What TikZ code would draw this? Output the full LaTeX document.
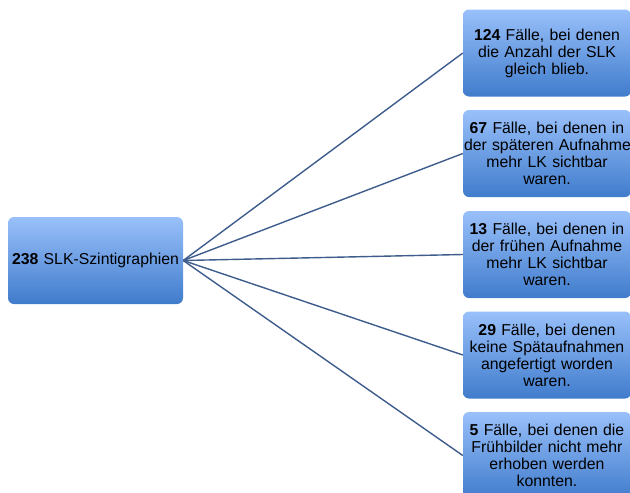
\documentclass[tikz,border=0pt]{standalone}
\usepackage{fontspec}
\setmainfont{Liberation Sans}
\usetikzlibrary{positioning}

\definecolor{boxtop}{RGB}{153,192,250}
\definecolor{boxbottom}{RGB}{64,124,204}
\definecolor{linkblue}{RGB}{62,92,140}

\tikzset{
  casebox/.style={rounded corners=6pt, top color=boxtop, bottom color=boxbottom,
    minimum width=168pt, minimum height=87pt, text width=166pt, align=center,
    inner sep=1pt, font=\fontsize{15.8}{17}\selectfont},
  rootbox/.style={casebox, minimum width=175pt, text width=173pt},
  link/.style={draw=linkblue, line width=1.4pt}
}

\begin{document}
\begin{tikzpicture}[x=1pt,y=-1pt]
\clip (0,0) rectangle (630,493);

\def\xa{95.5}
\def\xb{547}

\def\ya{53}
\def\yb{153.5}
\def\yc{254.5}
\def\yd{355}
\def\ye{455.5}

\node[rootbox] (root) at (\xa, 260.5) {\textbf{238} SLK-Szintigraphien};

\node[casebox] (same) at (\xb, \ya) {\textbf{124} Fälle, bei denen\\die Anzahl der SLK\\gleich blieb.};
\node[casebox] (late) at (\xb, \yb) {\textbf{67} Fälle, bei denen in\\\mbox{der späteren Aufnahme}\\mehr LK sichtbar\\waren.};
\node[casebox] (early) at (\xb, \yc) {\textbf{13} Fälle, bei denen in\\der frühen Aufnahme\\mehr LK sichtbar\\waren.};
\node[casebox] (nolate) at (\xb, \yd) {\textbf{29} Fälle, bei denen\\keine Spätaufnahmen\\angefertigt worden\\waren.};
\node[casebox] (noearly) at (\xb, \ye) {\textbf{5} Fälle, bei denen die\\Frühbilder nicht mehr\\erhoben werden\\konnten.};

\draw[link] (root.east) -- (same.west);
\draw[link] (root.east) -- (late.west);
\draw[link] (root.east) -- (early.west);
\draw[link] (root.east) -- (nolate.west);
\draw[link] (root.east) -- (noearly.west);
\end{tikzpicture}
\end{document}
